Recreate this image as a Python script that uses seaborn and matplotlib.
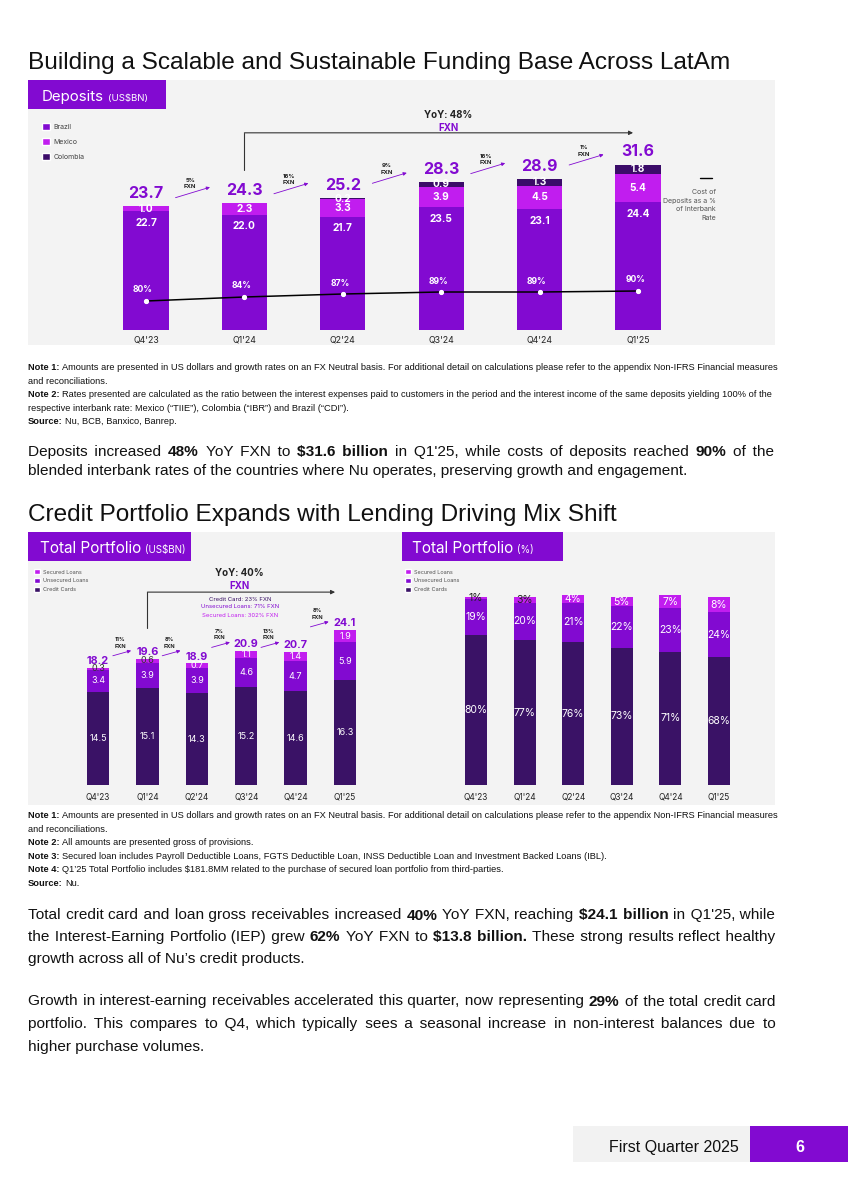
import numpy as np
import seaborn as sns
import matplotlib.pyplot as plt
from matplotlib.patches import Rectangle, Patch
from matplotlib.lines import Line2D

# data
quarters = ["Q4'23", "Q1'24", "Q2'24", "Q3'24", "Q4'24", "Q1'25"]
brazil = [22.7, 22.0, 21.7, 23.5, 23.1, 24.4]
mexico = [1.0, 2.3, 3.3, 3.9, 4.5, 5.4]
colombia = [0.0, 0.0, 0.2, 0.9, 1.3, 1.8]
dep_total = [23.7, 24.3, 25.2, 28.3, 28.9, 31.6]
cost_pct = [80, 84, 87, 89, 89, 90]
dep_growth = ["5%", "16%", "9%", "16%", "1%"]

cards = [14.5, 15.1, 14.3, 15.2, 14.6, 16.3]
unsecured = [3.4, 3.9, 3.9, 4.6, 4.7, 5.9]
secured = [0.3, 0.6, 0.7, 1.1, 1.4, 1.9]
port_total = [18.2, 19.6, 18.9, 20.9, 20.7, 24.1]
port_growth = ["11%", "8%", "7%", "13%", "8%"]

cards_pct = [80, 77, 76, 73, 71, 68]
unsec_pct = [19, 20, 21, 22, 23, 24]
sec_pct = [1, 3, 4, 5, 7, 8]

PURPLE = '#820AD1'
MAGENTA = '#C11DEF'
DARK = '#3B0C69'
CARD = '#3A1266'
GRAY = '#F3F3F3'
CHART = ['Inter', 'DejaVu Sans']
BODY = ['Liberation Sans', 'DejaVu Sans']
NOTE = ['Liberation Sans Narrow', 'Liberation Sans', 'DejaVu Sans']
HAIR = '\u200a'

sns.set_theme(style='white')
plt.rcParams['font.family'] = BODY

W, H = 848, 1194
fig = plt.figure(figsize=(W / 100, H / 100), dpi=100)
fig.patch.set_facecolor('white')
renderer = fig.canvas.get_renderer()


def fx(x):
    return x / W


def fy(y):
    return 1 - y / H


def rect(x, y, w, h):
    return [x / W, 1 - (y + h) / H, w / W, h / H]


def box(x, y, w, h, color, z=-1):
    fig.add_artist(Rectangle((x / W, 1 - (y + h) / H), w / W, h / H, transform=fig.transFigure,
                             facecolor=color, edgecolor='none', zorder=z))


def esc(s):
    return s.replace('$', r'\$')


def width_of(t):
    return t.get_window_extent(renderer).width


def measure(text, **kw):
    t = fig.text(0, 0, esc(text), **kw)
    w = width_of(t)
    t.remove()
    return w


def fit_size(text, base, target, family):
    return base * target / measure(text, fontsize=base, family=family)


def runs_at(x, y, runs, family):
    # runs: (text, size, weight, color, gap after in px)
    for txt, size, weight, col, gap in runs:
        t = fig.text(fx(x), fy(y), esc(txt), fontsize=size, fontweight=weight, color=col,
                     family=family, va='baseline', ha='left')
        x += width_of(t) + gap
    return x


def para_line(y, runs, size, justify, x0=28, x1=775):
    # one text per run; justification by padding spaces with hair spaces
    props = [dict(fontsize=size, fontweight='bold' if b else 'normal', family=BODY) for _, b in runs]
    sp = measure('a a', **props[0]) - measure('aa', **props[0])
    nat = [measure(txt, **p) for (txt, _), p in zip(runs, props)]
    n_gaps = sum(txt.count(' ') for txt, _ in runs) + len(runs) - 1
    total = sum(nat) + (len(runs) - 1) * sp
    e = (x1 - x0 - total) / n_gaps if justify and n_gaps else 0.0
    x = x0
    for (txt, _), p in zip(runs, props):
        hw = (measure('a' + HAIR * 20 + 'a', **p) - measure('aa', **p)) / 20
        words = txt.split(' ')
        s = words[0]
        used = 0
        for j, w in enumerate(words[1:]):
            cum = int(round(e * (j + 1) / hw)) if hw > 0.2 else 0
            s += ' ' + HAIR * (cum - used) + w
            used = cum
        t = fig.text(fx(x), fy(y), esc(s), va='baseline', ha='left', color='#111111', **p)
        x += width_of(t) + sp + e


def note_lines(lines, y0, step, size):
    for k, (bold, rest) in enumerate(lines):
        y = y0 + k * step
        sp = size * 100 / 72 * 0.25
        if bold:
            runs_at(28, y, [(bold, size, 'bold', '#111111', sp), (rest, size, 'normal', '#111111', 0)], NOTE)
        else:
            runs_at(28, y, [(rest, size, 'normal', '#111111', 0)], NOTE)


def header(x, y, w, h, big, small, tx, ty, bsize):
    box(x, y, w, h, PURPLE, z=1)
    runs_at(tx, ty, [(big, bsize, 'normal', 'white', 4), (small, bsize * 0.64, 'normal', 'white', 0)], CHART)


def stacked(ax, layers, colors, width):
    cum = np.cumsum(np.array(layers), axis=0)
    for top, c in zip(cum[::-1], colors[::-1]):
        sns.barplot(x=np.arange(6), y=top, color=c, width=width, native_scale=True, saturation=1,
                    errorbar=None, linewidth=0, edgecolor='none', ax=ax)
    return cum


# titles
t_size = fit_size('Building a Scalable and Sustainable Funding Base Across LatAm', 16, 708, BODY)
fig.text(fx(28), fy(69), 'Building a Scalable and Sustainable Funding Base Across LatAm', fontsize=t_size,
         family=BODY, va='baseline', color='#111111')
fig.text(fx(28), fy(521), 'Credit Portfolio Expands with Lending Driving Mix Shift', fontsize=t_size,
         family=BODY, va='baseline', color='#111111')

# panels
box(28, 80, 747, 265, GRAY)
box(28, 532, 747, 273, GRAY)
header(28, 80, 138, 29, 'Deposits', '(US$BN)', 42, 101, 10.8)
header(28, 532, 163, 29, 'Total Portfolio', '(US$BN)', 40, 553, 11)
header(402, 532, 161, 29, 'Total Portfolio', '(%)', 412, 553, 11)

# ---- deposits chart
ax = fig.add_axes(rect(28, 80, 747, 265))
dep_colors = [PURPLE, MAGENTA, DARK]
cum = stacked(ax, [brazil, mexico, colombia], dep_colors, 0.46)
for i in range(6):
    ax.text(i, dep_total[i] + 1.0, f'{dep_total[i]:.1f}', ha='center', va='bottom', fontsize=11.5,
            fontweight='bold', color=PURPLE, family=CHART)
    ax.text(i, brazil[i] - 2.2, f'{brazil[i]:.1f}', ha='center', va='center', fontsize=7.3,
            fontweight='bold', color='white', family=CHART)
    ax.text(i, brazil[i] + mexico[i] / 2, f'{mexico[i]:.1f}', ha='center', va='center', fontsize=7.3,
            fontweight='bold', color='white', family=CHART)
    if colombia[i] > 0:
        ax.text(i, cum[2][i] - colombia[i] / 2, f'{colombia[i]:.1f}', ha='center', va='center',
                fontsize=7.3, fontweight='bold', color='white', family=CHART)
    ax.text(i, -1.91, quarters[i], ha='center', va='center', fontsize=6.3, color='#222222', family=CHART)
for i, g in enumerate(dep_growth):
    mid = (dep_total[i] + dep_total[i + 1]) / 2 + 2.3
    ax.annotate('', xy=(i + 0.65, mid + 1.0), xytext=(i + 0.3, mid - 1.0),
                arrowprops=dict(arrowstyle='-|>', color=PURPLE, lw=0.6, mutation_scale=5, shrinkA=0, shrinkB=0))
    ax.text(i + 0.45, mid + 0.6, f'{g}\nFXN', ha='center', va='bottom', fontsize=4.3, fontweight='bold',
            color='#222222', linespacing=1.4, family=CHART)
ax.plot([1, 1], [30.6, 37.7], color='#333333', lw=0.8)
ax.annotate('', xy=(4.95, 37.7), xytext=(1, 37.7),
            arrowprops=dict(arrowstyle='-|>', color='#333333', lw=0.8, mutation_scale=6, shrinkA=0, shrinkB=0))
ax.text(3.07, 41.1, 'YoY: 48%', ha='center', va='center', fontsize=7, fontweight='bold', color='#222222',
        family=CHART)
ax.text(3.07, 38.6, 'FXN', ha='center', va='center', fontsize=7, fontweight='bold', color=PURPLE, family=CHART)
leg = ax.legend(handles=[Patch(facecolor=c, label=l) for c, l in zip(dep_colors, ['Brazil', 'Mexico', 'Colombia'])],
                loc='upper left', bbox_to_anchor=(fx(42), fy(123)), bbox_transform=fig.transFigure,
                frameon=False, prop={'family': CHART, 'size': 5}, handlelength=1.1, handleheight=1.1,
                labelspacing=1.2, handletextpad=0.6, borderpad=0, borderaxespad=0)
for t in leg.get_texts():
    t.set_color('#444444')

ax2 = ax.twinx()
sns.lineplot(x=np.arange(6), y=cost_pct, color='black', lw=1.1, marker='o', markersize=3,
             markerfacecolor='white', markeredgecolor='white', ax=ax2)
for i, v in enumerate(cost_pct):
    ax2.text(i - 0.03, v + 11, f'{v}%', ha='center', va='center', fontsize=6.2, fontweight='bold',
             color='white', family=CHART)
for a in (ax, ax2):
    a.set_xlim(-1.199, 6.392)
    a.axis('off')
ax.set_ylim(-2.868, 47.8)
ax2.set_ylim(36, 301)
fig.add_artist(Line2D([fx(700), fx(712)], [fy(178), fy(178)], color='black', lw=1, transform=fig.transFigure))
fig.text(fx(716), fy(189), 'Cost of\nDeposits as a %\nof Interbank\nRate', ha='right', va='top', fontsize=5,
         color='#555555', family=CHART, linespacing=1.5)

# ---- portfolio (US$BN)
port_colors = [CARD, PURPLE, MAGENTA]
port_names = ['Credit Cards', 'Unsecured Loans', 'Secured Loans']
axl = fig.add_axes(rect(28, 532, 362, 273))
cum = stacked(axl, [cards, unsecured, secured], port_colors, 0.45)
for i in range(6):
    bases = [0, cum[0][i], cum[1][i]]
    for b, v in zip(bases, [cards[i], unsecured[i], secured[i]]):
        axl.text(i, b + v / 2, f'{v:.1f}', ha='center', va='center', fontsize=6.5,
                 color='#333333' if v < 0.65 else 'white', family=CHART)
    axl.text(i, port_total[i] + 0.25, f'{port_total[i]:.1f}', ha='center', va='bottom', fontsize=7.8,
             fontweight='bold', color=PURPLE, family=CHART)
    axl.text(i, -1.87, quarters[i], ha='center', va='center', fontsize=6, color='#222222', family=CHART)
for i, g in enumerate(port_growth):
    mid = max(port_total[i], port_total[i + 1]) + 0.9
    axl.annotate('', xy=(i + 0.67, mid + 0.4), xytext=(i + 0.3, mid - 0.4),
                 arrowprops=dict(arrowstyle='-|>', color=PURPLE, lw=0.6, mutation_scale=5, shrinkA=0, shrinkB=0))
    axl.text(i + 0.45, mid + 0.7, f'{g}\nFXN', ha='center', va='bottom', fontsize=4, fontweight='bold',
             color='#222222', linespacing=1.4, family=CHART)
axl.plot([1, 1], [24.4, 30.0], color='#333333', lw=0.8)
axl.annotate('', xy=(4.8, 30.0), xytext=(1, 30.0),
             arrowprops=dict(arrowstyle='-|>', color='#333333', lw=0.8, mutation_scale=6, shrinkA=0, shrinkB=0))
axl.text(2.87, 33.0, 'YoY: 40%', ha='center', va='center', fontsize=7, fontweight='bold', color='#222222',
         family=CHART)
axl.text(2.87, 30.95, 'FXN', ha='center', va='center', fontsize=7, fontweight='bold', color=PURPLE, family=CHART)
for y, txt, c in [(28.9, 'Credit Card: 23% FXN', CARD), (27.7, 'Unsecured Loans: 71% FXN', PURPLE),
                  (26.4, 'Secured Loans: 302% FXN', MAGENTA)]:
    axl.text(2.87, y, txt, ha='center', va='center', fontsize=4.3, color=c, family=CHART)
axl.set_xlim(-1.417, 5.911)
axl.set_ylim(-3.11, 39.35)
axl.axis('off')

# ---- portfolio (%)
axr = fig.add_axes(rect(392, 532, 383, 273))
cum = stacked(axr, [cards_pct, unsec_pct, sec_pct], port_colors, 0.45)
for i in range(6):
    bases = [0, cum[0][i], cum[1][i]]
    for b, v in zip(bases, [cards_pct[i], unsec_pct[i], sec_pct[i]]):
        axr.text(i, b + v / 2, f'{v}%', ha='center', va='center', fontsize=7.5,
                 color='#222222' if v < 3.5 else 'white', family=CHART)
    axr.text(i, -6.4, quarters[i], ha='center', va='center', fontsize=6, color='#222222', family=CHART)
axr.set_xlim(-1.728, 6.152)
axr.set_ylim(-10.64, 134.57)
axr.axis('off')

for a, lx in [(axl, 34), (axr, 405)]:
    lg = a.legend(handles=[Patch(facecolor=c, label=l) for c, l in zip(port_colors[::-1], port_names[::-1])],
                  loc='upper left', bbox_to_anchor=(fx(lx), fy(569)), bbox_transform=fig.transFigure,
                  frameon=False, prop={'family': CHART, 'size': 4}, handlelength=1.1, handleheight=1.1,
                  labelspacing=0.6, handletextpad=0.6, borderpad=0, borderaxespad=0)
    for t in lg.get_texts():
        t.set_color('#555555')

# ---- notes
n_size = fit_size('Note 1: Amounts are presented in US dollars and growth rates on an FX Neutral basis. For additional '
                  'detail on calculations please refer to the appendix Non-IFRS Financial measures', 6.5, 745, NOTE)
note_lines([
    ('Note 1:', 'Amounts are presented in US dollars and growth rates on an FX Neutral basis. For additional detail on '
                'calculations please refer to the appendix Non-IFRS Financial measures'),
    ('', 'and reconciliations.'),
    ('Note 2:', 'Rates presented are calculated as the ratio between the interest expenses paid to customers in the '
                'period and the interest income of the same deposits yielding 100% of the'),
    ('', 'respective interbank rate: Mexico (“TIIE”), Colombia (“IBR”) and Brazil (“CDI”).'),
    ('Source:', 'Nu, BCB, Banxico, Banrep.'),
], 370, 13.6, n_size)
note_lines([
    ('Note 1:', 'Amounts are presented in US dollars and growth rates on an FX Neutral basis. For additional detail on '
                'calculations please refer to the appendix Non-IFRS Financial measures'),
    ('', 'and reconciliations.'),
    ('Note 2:', 'All amounts are presented gross of provisions.'),
    ('Note 3:', 'Secured loan includes Payroll Deductible Loans, FGTS Deductible Loan, INSS Deductible Loan and '
                'Investment Backed Loans (IBL).'),
    ('Note 4:', 'Q1’25 Total Portfolio includes $181.8MM related to the purchase of secured loan portfolio from '
                'third-parties.'),
    ('Source:', 'Nu.'),
], 818, 13.6, n_size)

# ---- body paragraphs
b_size = fit_size('blended interbank rates of the countries where Nu operates, preserving growth and engagement.',
                  11, 660, BODY)
para_line(456.5, [('Deposits increased', 0), ('48%', 1), ('YoY FXN to', 0), ('$31.6 billion', 1),
                  ("in Q1'25, while costs of deposits reached", 0), ('90%', 1), ('of the', 0)], b_size, True)
para_line(475.5, [('blended interbank rates of the countries where Nu operates, preserving growth and engagement.', 0)],
          b_size, False)
para_line(919.5, [('Total credit card and loan gross receivables increased', 0), ('40%', 1), ('YoY FXN, reaching', 0),
                  ('$24.1 billion', 1), ("in Q1'25, while", 0)], b_size, True)
para_line(941, [('the Interest-Earning Portfolio (IEP) grew', 0), ('62%', 1), ('YoY FXN to', 0),
                ('$13.8 billion.', 1), ('These strong results reflect healthy', 0)], b_size, True)
para_line(962.5, [('growth across all of Nu’s credit products.', 0)], b_size, False)
para_line(1005.5, [('Growth in interest-earning receivables accelerated this quarter, now representing', 0), ('29%', 1),
                   ('of the total credit card', 0)], b_size, True)
para_line(1028, [('portfolio. This compares to Q4, which typically sees a seasonal increase in non-interest balances '
                  'due to', 0)], b_size, True)
para_line(1050.5, [('higher purchase volumes.', 0)], b_size, False)

# ---- footer
box(573, 1126, 177, 36, '#F2F2F2')
box(750, 1126, 98, 36, PURPLE)
fig.text(fx(739), fy(1152), 'First Quarter 2025', ha='right', va='baseline', fontsize=11.5, family=BODY,
         color='#111111')
fig.text(fx(800), fy(1152), '6', ha='center', va='baseline', fontsize=11.5, fontweight='bold', family=BODY,
         color='white')

fig.savefig('out.png', dpi=100)
